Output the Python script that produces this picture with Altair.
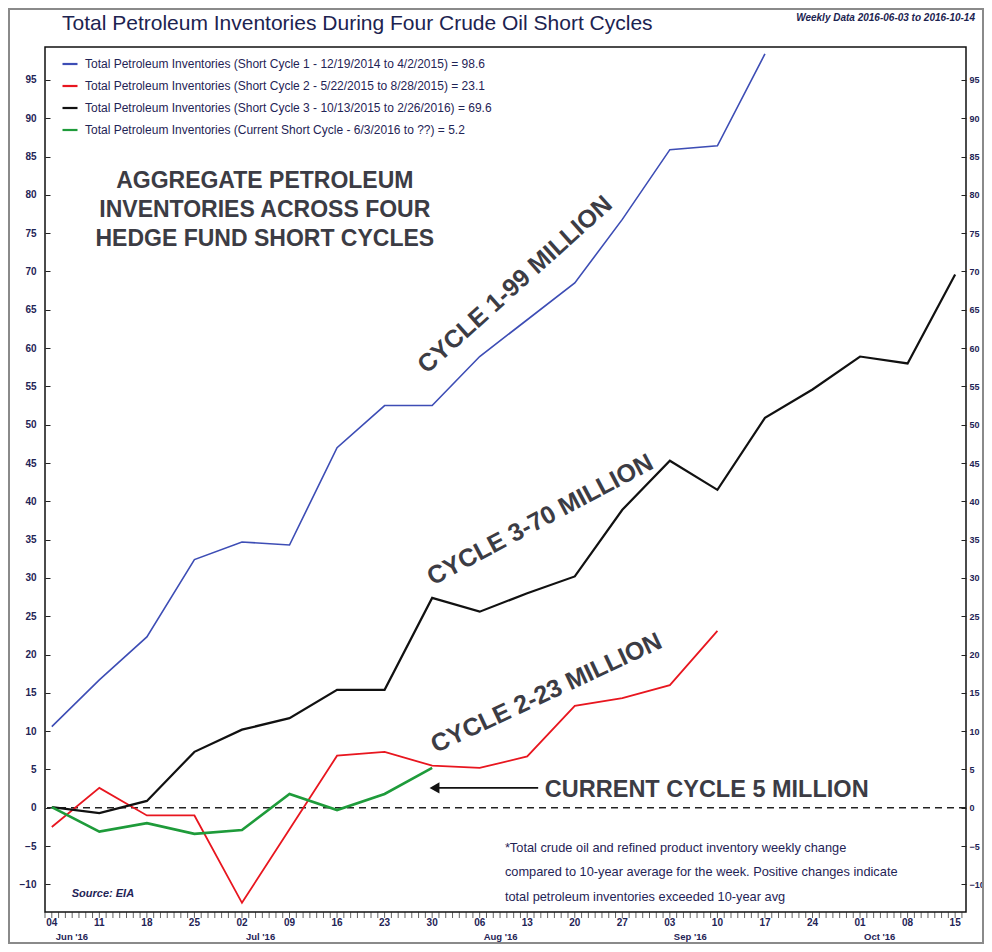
import altair as alt
import pandas as pd

# ---------------- data ----------------
week_labels = ["04", "11", "18", "25", "02", "09", "16", "23", "30", "06",
               "13", "20", "27", "03", "10", "17", "24", "01", "08", "15"]
month_labels = ["Jun '16", "Jul '16", "Aug '16", "Sep '16", "Oct '16"]
month_first_week = [0, 4, 9, 13, 17]

cycle1 = [10.6, 16.7, 22.3, 32.4, 34.7, 34.3, 47.0, 52.5, 52.5, 58.9,
          63.7, 68.5, 76.8, 85.9, 86.4, 98.4]
cycle2 = [-2.5, 2.6, -1.0, -1.0, -12.4, -2.8, 6.8, 7.3, 5.5, 5.2,
          6.7, 13.3, 14.3, 16.0, 23.1]
cycle3 = [0.1, -0.7, 0.9, 7.3, 10.2, 11.7, 15.4, 15.4, 27.4, 25.6,
          28.0, 30.2, 38.9, 45.3, 41.5, 50.9, 54.6, 58.9, 58.0, 69.6]
current = [0.1, -3.1, -2.0, -3.4, -2.9, 1.8, -0.3, 1.8, 5.2]

series_names = [
    "Total Petroleum Inventories (Short Cycle 1 - 12/19/2014 to 4/2/2015) = 98.6",
    "Total Petroleum Inventories (Short Cycle 2 - 5/22/2015 to 8/28/2015) = 23.1",
    "Total Petroleum Inventories (Short Cycle 3 - 10/13/2015 to 2/26/2016) = 69.6",
    "Total Petroleum Inventories (Current Short Cycle - 6/3/2016 to ??) = 5.2",
]
series_values = [cycle1, cycle2, cycle3, current]
series_colors = ["#3d4db5", "#e8161f", "#111111", "#1e9b3a"]
series_widths = [1.6, 1.8, 2.2, 2.6]

y_ticks = list(range(-10, 100, 5))

W, H = 921, 865
NAVY = "#1f2456"
ANNOT = "#3c3c44"
FONT = "Liberation Sans"

xscale = alt.Scale(domain=[-1 / 7, 19 + 1.6 / 7], nice=False, zero=False)
yscale = alt.Scale(domain=[-13.6, 99.3], nice=False, zero=False)

y_axis_left = alt.Axis(
    values=y_ticks, orient="left", offset=-5, tickSize=5, tickColor="#222",
    domain=False, grid=False, title=None, labelPadding=9, labelFontSize=10,
    labelColor=NAVY, labelFont=FONT, labelFontWeight="bold",
)
y_axis_right = alt.Axis(
    values=y_ticks, orient="right", offset=-5, tickSize=5, tickColor="#222",
    domain=False, grid=False, title=None, labelPadding=3, labelFontSize=9,
    labelColor=NAVY, labelFont=FONT, labelFontWeight="bold",
)

legend = alt.Legend(
    orient="none", legendX=16, legendY=8, title=None,
    symbolType="stroke", symbolSize=225, symbolStrokeWidth=2.2,
    labelFontSize=12, labelColor=NAVY, labelFont=FONT,
    labelLimit=800, rowPadding=7, labelOffset=6, padding=0,
)
color_enc = alt.Color(
    "series:N", sort=series_names,
    scale=alt.Scale(domain=series_names, range=series_colors),
    legend=legend,
)

line_layers = []
for k, (name, vals, w) in enumerate(zip(series_names, series_values, series_widths)):
    d = pd.DataFrame({"week": list(range(len(vals))), "value": vals, "series": name})
    line_layers.append(
        alt.Chart(d).mark_line(strokeWidth=w).encode(
            x=alt.X("week:Q", scale=xscale, axis=None),
            y=alt.Y("value:Q", scale=yscale, axis=y_axis_left if k == 0 else None),
            color=color_enc,
        )
    )

zero = alt.Chart(pd.DataFrame({"v": [0]})).mark_rule(
    strokeDash=[7, 5], strokeWidth=1.5, color="#222"
).encode(y=alt.Y("v:Q", scale=yscale, axis=y_axis_right))

# x axis: daily ruler ticks + week labels + month labels
day_ticks = alt.Chart(pd.DataFrame({"d": [i / 7 for i in range(-1, 135)]})).mark_tick(
    orient="vertical", size=6, thickness=1, color="#222"
).encode(x=alt.X("d:Q", scale=xscale, axis=None), y=alt.value(H + 3))

week_text = alt.Chart(pd.DataFrame({"wk": list(range(len(week_labels))), "t": week_labels})).mark_text(
    font=FONT, fontSize=10, fontWeight="bold", color=NAVY, align="center", baseline="middle",
).encode(x=alt.X("wk:Q", scale=xscale, axis=None), y=alt.value(H + 11), text="t:N")

months = alt.Chart(pd.DataFrame({"wk": month_first_week, "text": month_labels})).mark_text(
    font=FONT, fontSize=9.5, fontWeight="bold", color=NAVY, align="left",
    baseline="middle", dx=4,
).encode(x=alt.X("wk:Q", scale=xscale, axis=None), y=alt.value(H + 25), text="text:N")

# rotated cycle labels
cyc = pd.DataFrame({
    "wk": [9.74, 10.27, 10.40],
    "val": [68.3, 37.6, 15.0],
    "text": ["CYCLE 1-99 MILLION", "CYCLE 3-70 MILLION", "CYCLE 2-23 MILLION"],
    "angle": [318, 332, 335],
})
cyc_text = alt.Chart(cyc).mark_text(
    font=FONT, fontWeight="bold", fontSize=25, color=ANNOT,
    align="center", baseline="middle",
).encode(
    x=alt.X("wk:Q", scale=xscale, axis=None),
    y=alt.Y("val:Q", scale=yscale, axis=None),
    text="text:N",
    angle=alt.Angle("angle:Q", scale=None),
)

current_lbl = alt.Chart(pd.DataFrame({
    "wk": [10.37], "val": [2.35], "text": ["CURRENT CYCLE 5 MILLION"]
})).mark_text(
    font=FONT, fontWeight="bold", fontSize=23.5, color=ANNOT,
    align="left", baseline="middle",
).encode(
    x=alt.X("wk:Q", scale=xscale, axis=None),
    y=alt.Y("val:Q", scale=yscale, axis=None),
    text="text:N",
)

agg = alt.Chart(pd.DataFrame({
    "wk": [4.48], "val": [81.8],
    "text": ["AGGREGATE PETROLEUM\nINVENTORIES ACROSS FOUR\nHEDGE FUND SHORT CYCLES"],
})).mark_text(
    font=FONT, fontWeight="bold", fontSize=23, color=ANNOT,
    align="center", baseline="middle", lineBreak="\n", lineHeight=29,
).encode(
    x=alt.X("wk:Q", scale=xscale, axis=None),
    y=alt.Y("val:Q", scale=yscale, axis=None),
    text="text:N",
)

# arrow
arrow_df = pd.DataFrame({"x1": [8.05], "x2": [10.23], "y": [2.6]})
arrow_line = alt.Chart(arrow_df).mark_rule(strokeWidth=1.6, color="#111").encode(
    x=alt.X("x1:Q", scale=xscale, axis=None), x2="x2:Q",
    y=alt.Y("y:Q", scale=yscale, axis=None),
)
arrow_head = alt.Chart(arrow_df).mark_point(
    shape="triangle-left", filled=True, size=130, color="#111", opacity=1
).encode(
    x=alt.X("x1:Q", scale=xscale, axis=None),
    y=alt.Y("y:Q", scale=yscale, axis=None),
)

foot = alt.Chart(pd.DataFrame({
    "wk": [9.53], "val": [-5.22],
    "text": ["*Total crude oil and refined product inventory weekly change\n"
             "compared to 10-year average for the week. Positive changes indicate\n"
             "total petroleum inventories exceeded 10-year avg"],
})).mark_text(
    font=FONT, fontSize=12.8, color=NAVY, align="left", baseline="middle",
    lineBreak="\n", lineHeight=24.5,
).encode(
    x=alt.X("wk:Q", scale=xscale, axis=None),
    y=alt.Y("val:Q", scale=yscale, axis=None),
    text="text:N",
)

source = alt.Chart(pd.DataFrame({"wk": [0.42], "val": [-11.3], "text": ["Source:  EIA"]})).mark_text(
    font=FONT, fontSize=11, fontStyle="italic", fontWeight="bold", color=NAVY,
    align="left", baseline="middle",
).encode(
    x=alt.X("wk:Q", scale=xscale, axis=None),
    y=alt.Y("val:Q", scale=yscale, axis=None),
    text="text:N",
)

title = alt.Chart(pd.DataFrame({"t": ["Total Petroleum Inventories During Four Crude Oil Short Cycles"]})).mark_text(
    font=FONT, fontSize=21, color="#1c2350", align="left", baseline="alphabetic",
).encode(x=alt.value(17), y=alt.value(-17), text="t:N")

subtitle = alt.Chart(pd.DataFrame({"t": ["Weekly Data 2016-06-03 to 2016-10-14"]})).mark_text(
    font=FONT, fontSize=10, fontStyle="italic", fontWeight="bold", color="#1c2350",
    align="right", baseline="alphabetic",
).encode(x=alt.value(W + 9), y=alt.value(-26), text="t:N")

border = alt.Chart(pd.DataFrame({"a": [0]})).mark_rect(
    fillOpacity=0, stroke="#8a8a8a", strokeWidth=2
).encode(x=alt.value(-36), x2=alt.value(W + 17), y=alt.value(-38), y2=alt.value(H + 31))

chart = alt.layer(
    border, zero, *line_layers, day_ticks, week_text, months, cyc_text,
    current_lbl, agg, arrow_line, arrow_head, foot, source, title, subtitle,
).resolve_axis(y="independent").properties(
    width=W, height=H,
    autosize=alt.AutoSizeParams(type="none"),
    padding={"left": 37, "top": 39, "right": 18, "bottom": 32},
    background="white",
).configure_view(stroke="#111", strokeWidth=1.5)

chart.save("out.html", embed_options={"renderer": "svg", "actions": False})
